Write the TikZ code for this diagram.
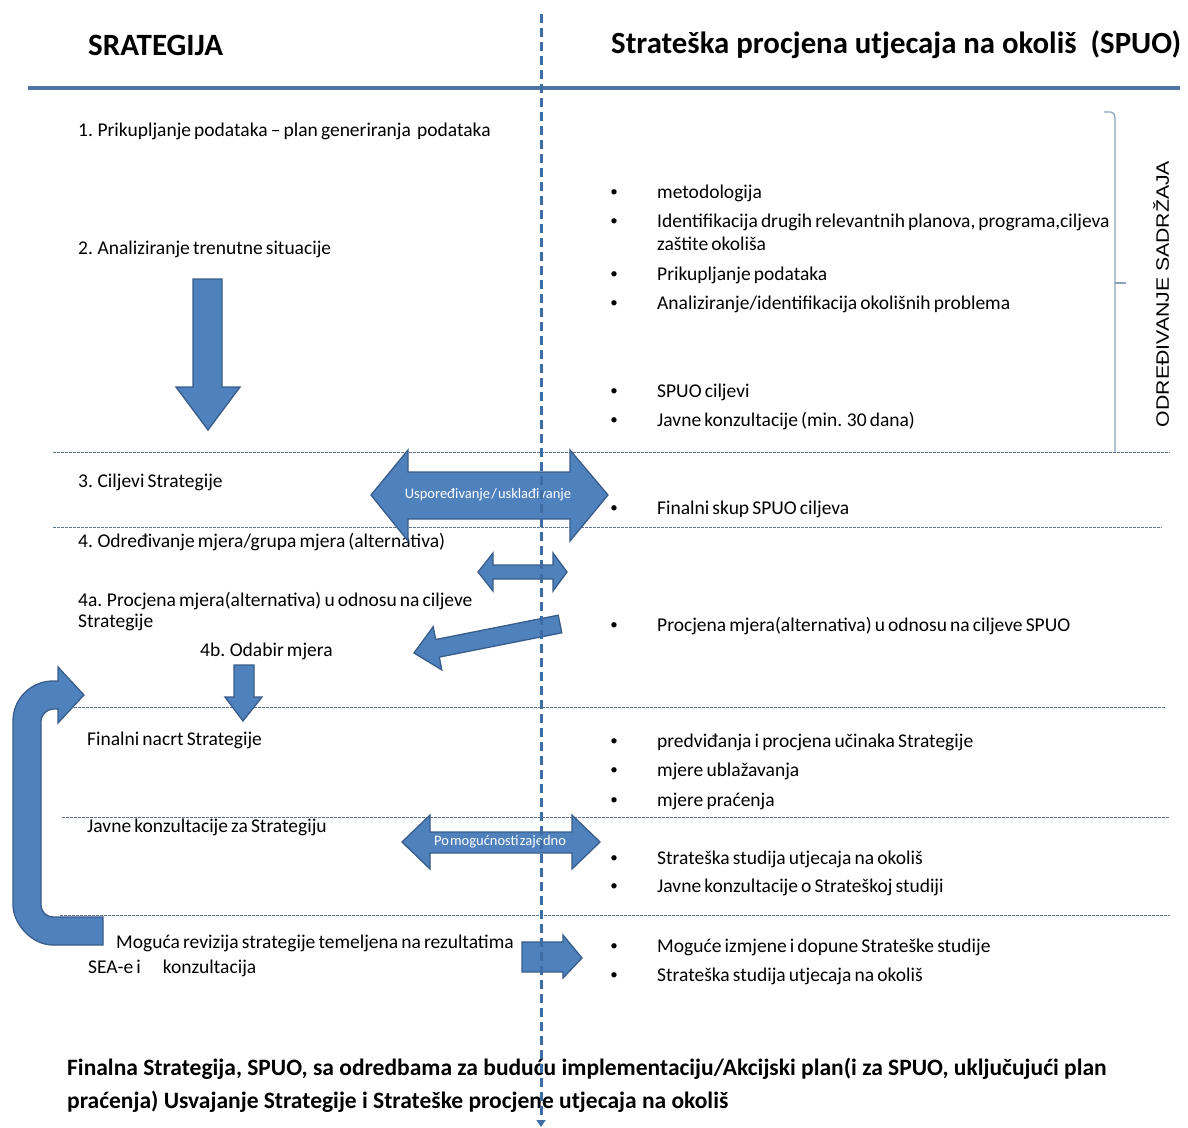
\documentclass[tikz,border=0pt]{standalone}
\usepackage{fontspec}
\setmainfont{Carlito}
\newfontfamily\rotfont[FakeStretch=1.18]{Liberation Sans}
\usetikzlibrary{arrows.meta}
\definecolor{afill}{RGB}{79,129,189}
\definecolor{adraw}{RGB}{56,93,138}
\definecolor{hline}{RGB}{76,115,165}
\definecolor{vline}{RGB}{62,108,165}
\definecolor{sepline}{RGB}{95,115,145}
\definecolor{bracec}{RGB}{140,160,185}
\newcommand\myfs[2]{\fontsize{#1}{#2}\selectfont}
\newcommand\tightsp[1]{\spaceskip=#1em plus 0.05em\relax}
\begin{document}
\begin{tikzpicture}[x=1pt,y=-1pt,
  hdr/.style={anchor=west, inner sep=0, font=\myfs{31}{35}\bfseries},
  txt/.style={anchor=west, inner sep=0, font=\myfs{19.5}{22}, execute at begin node={\tightsp{0.16}}},
  bul/.style={anchor=center, inner sep=0, font=\myfs{15}{18}},
  fin/.style={anchor=west, inner sep=0, font=\myfs{23.5}{26}\bfseries},
  alabel/.style={anchor=center, inner sep=0, text=white, execute at begin node={\tightsp{0.08}}},
  blockarrow/.style={fill=afill, draw=adraw, line width=1.3pt, line join=miter},
  sep/.style={draw=sepline, line width=0.8pt, dash pattern=on 2.5pt off 1.5pt},
  flow/.style={draw=vline, line width=3pt, dash pattern=on 9pt off 5pt}]
\useasboundingbox[fill=white] (0,0) rectangle (1188,1127);

% headers
\node[hdr] (h1) at (88,45) {SRATEGIJA};
\node[hdr, font=\myfs{30.8}{35}\bfseries] (h2) at (611,45) {Strateška procjena utjecaja na okoliš\ \ (SPUO)};
\draw[hline, line width=4pt] (28,88) -- (1180,88);

% separator lines
\draw[sep] (53,452) -- (1170,452);
\draw[sep] (53,527) -- (1162,527);
\draw[sep] (70,707) -- (1166,707);
\draw[sep] (62,817) -- (1170,817);
\draw[sep] (60,915) -- (1170,915);

% brace
\draw[bracec, line width=1.2pt] (1104,112) -- (1111,112) to[out=0,in=90] (1115,118) -- (1115,452);
\draw[bracec, line width=1.2pt] (1115,283) -- (1126,283);
\node[rotate=90, inner sep=0, font=\rotfont\myfs{18}{20}] (odr) at (1161,294) {ODREĐIVANJE SADRŽAJA};

% left texts
\node[txt] (s1) at (78,131) {1. Prikupljanje podataka – plan generiranja\ \ podataka};
\node[txt] (s2) at (78,249) {2. Analiziranje trenutne situacije};
\node[txt] (s3) at (78,482) {3. Ciljevi Strategije};
\node[txt] (s4) at (78,542) {4. Određivanje mjera/grupa mjera (alternativa)};
\node[txt] (s4a) at (78,601) {4a. Procjena mjera(alternativa) u odnosu na ciljeve};
\node[txt] (s4a2) at (78,622) {Strategije};
\node[txt] (s4b) at (200,651) {4b. Odabir mjera};
\node[txt] (s5) at (87,740) {Finalni nacrt Strategije};
\node[txt] (s6) at (87,827) {Javne konzultacije za Strategiju};
\node[txt] (s7) at (116,943) {Moguća revizija strategije temeljena na rezultatima};
\node[txt] (s72) at (88,968) {SEA-e i\hspace{22pt}konzultacija};

% right bullets
\foreach \yy/\nm/\tx in {193/r1/{metodologija},
  222/r2/{Identifikacija drugih relevantnih planova, programa,ciljeva},
  275/r3/{Prikupljanje podataka},
  304/r4/{Analiziranje/identifikacija okolišnih problema},
  392/r5/{SPUO ciljevi},
  421/r6/{Javne konzultacije (min. 30 dana)},
  509/r7/{Finalni skup SPUO ciljeva},
  626/r8/{Procjena mjera(alternativa) u odnosu na ciljeve SPUO},
  742/r9/{predviđanja i procjena učinaka Strategije},
  771/r10/{mjere ublažavanja},
  801/r11/{mjere praćenja},
  859/r12/{Strateška studija utjecaja na okoliš},
  887/r13/{Javne konzultacije o Strateškoj studiji},
  947/r14/{Moguće izmjene i dopune Strateške studije},
  976/r15/{Strateška studija utjecaja na okoliš}}{
  \node[bul] (b\nm) at (614,\yy) {•};
  \node[txt] (\nm) at (657,\yy) {\tx};
}
\node[txt] (r2b) at (657,244) {zaštite okoliša};

% block arrows
% 1 down arrow
\draw[blockarrow] (193,279) -- (222,279) -- (222,387) -- (240,387) -- (208,430) -- (176,387) -- (193,387) -- cycle;
% big double arrow
\draw[blockarrow] (371,495) -- (408,450) -- (408,472) -- (570,472) -- (570,450) -- (608,495) -- (570,541) -- (570,519) -- (408,519) -- (408,541) -- cycle;
\node[alabel, font=\myfs{14.5}{16}] (usp) at (488,495) {Uspoređivanje / usklađivanje};
% small double arrow
\draw[blockarrow] (478,572) -- (493,553) -- (493,565) -- (553,565) -- (553,553) -- (567,572) -- (553,591) -- (553,579) -- (493,579) -- (493,591) -- cycle;
% slanted arrow
\draw[blockarrow] (558.2,615.2) -- (435.7,639.5) -- (433.2,626.7) -- (414,653) -- (441.8,669.9) -- (439.3,657.1) -- (561.8,632.8) -- cycle;
% small down arrow
\draw[blockarrow] (234,665) -- (254,665) -- (254,697) -- (262,697) -- (243,721) -- (225,697) -- (234,697) -- cycle;
% double arrow po mogucnosti
\draw[blockarrow] (402,842) -- (430,815) -- (430,832) -- (572,832) -- (572,815) -- (600,842) -- (572,869) -- (572,853) -- (430,853) -- (430,869) -- cycle;
\node[alabel, font=\myfs{14.5}{16}] (pom) at (500,842) {Po mogućnosti zajedno};
% right arrow bottom
\draw[blockarrow] (522,942) -- (563,942) -- (563,935) -- (582,958) -- (563,978) -- (563,972) -- (522,972) -- cycle;
% U-turn arrow
\draw[blockarrow] (103,945) -- (53,945) .. controls (30.9,945) and (13,922.9) .. (13,905)
  -- (13,721) .. controls (13,698.9) and (30.9,681) .. (53,681)
  -- (58,681) -- (58,667) -- (84,695) -- (58,723) -- (58,709) -- (53,709)
  .. controls (46.4,709) and (41,715.6) .. (41,721)
  -- (41,905) .. controls (41,911.6) and (46.4,917) .. (53,917) -- (103,917) -- cycle;

% final text
\node[fin] (f1) at (67,1069) {Finalna Strategija, SPUO, sa odredbama za buduću implementaciju/Akcijski plan(i za SPUO, uključujući plan};
\node[fin] (f2) at (67,1102) {praćenja) Usvajanje Strategije i Strateške procjene utjecaja na okoliš};

% central flow line
\coordinate (vtop) at (541,14);
\coordinate (vbot) at (541,1127);
\draw[flow, -{Triangle[width=9pt,length=7pt]}] (vtop) -- (vbot);
\end{tikzpicture}
\end{document}
